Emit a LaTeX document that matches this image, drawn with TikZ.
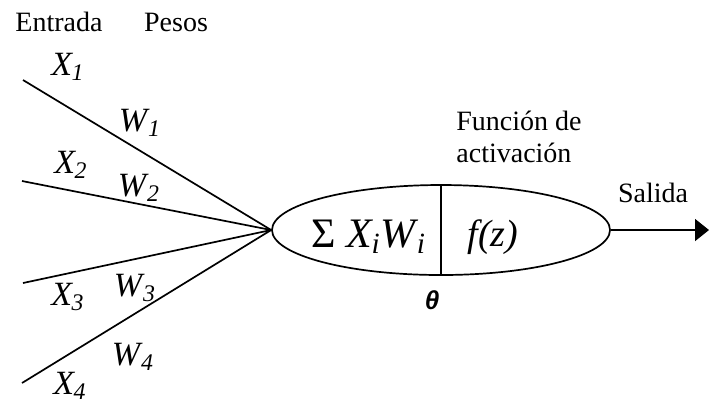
\documentclass[tikz,border=0pt]{standalone}
\usepackage{fontspec}
\setmainfont{Liberation Serif}
\newfontfamily\thetafont{Liberation Sans}
\usetikzlibrary{shapes.geometric,arrows.meta}

\newcommand\inlbl[2]{\textit{#1}\kern-0.05em\textsubscript{\textit{#2}}}

\begin{document}
\begin{tikzpicture}[x=0.5pt, y=-0.5pt, line width=0.85pt,
    txt/.style={font=\fontsize{14}{16}\selectfont, inner sep=0pt},
    lbl/.style={font=\fontsize{17}{19}\selectfont, inner sep=0pt}]

    \useasboundingbox (0,0) rectangle (710,404);

    \node at (441, 230) (soma) [shape=ellipse,draw,inner sep=0pt,minimum width=169pt,minimum height=45pt] {};
    \path[draw] (soma.north) -- (soma.south);

    \coordinate (in1) at (23, 80);
    \coordinate (in2) at (22, 181);
    \coordinate (in3) at (23, 283);
    \coordinate (in4) at (22, 383);
    \coordinate (out) at (709, 230);

    \node at (59, 22) (entrada) [txt] {Entrada};
    \node at (176, 22) (pesos) [txt] {Pesos};
    \node at (519, 137) (func) [txt, align=left] {Función de\\[0pt]activación};
    \node at (653, 193) (salida) [txt] {Salida};

    \node at (68, 67) (x1) [lbl] {\inlbl{X}{1}};
    \node at (71, 165) (x2) [lbl] {\inlbl{X}{2}};
    \node at (68, 297) (x3) [lbl] {\inlbl{X}{3}};
    \node at (70, 386) (x4) [lbl] {\inlbl{X}{4}};
    \node at (140, 123) (w1) [lbl] {\inlbl{W}{1}};
    \node at (139, 188) (w2) [lbl] {\inlbl{W}{2}};
    \node at (135, 288) (w3) [lbl] {\inlbl{W}{3}};
    \node at (133, 357) (w4) [lbl] {\inlbl{W}{4}};

    \node at (369, 237) (suma) [lbl, font=\fontsize{21}{23}\selectfont] {Σ \inlbl{X}{i}\inlbl{W}{i}};
    \node at (493, 237) (fz) [lbl, font=\fontsize{19}{21}\selectfont] {\textit{f(z)}};
    \node at (432, 300) (theta) [inner sep=0pt, font=\fontsize{13}{15}\thetafont\bfseries\itshape] {θ};

    \path[draw] (in1) -- (soma.west);
    \path[draw] (in2) -- (soma.west);
    \path[draw] (in3) -- (soma.west);
    \path[draw] (in4) -- (soma.west);
    \path[draw, -{Triangle[length=7pt,width=11pt]}] (soma.east) -- (out);

\end{tikzpicture}
\end{document}
